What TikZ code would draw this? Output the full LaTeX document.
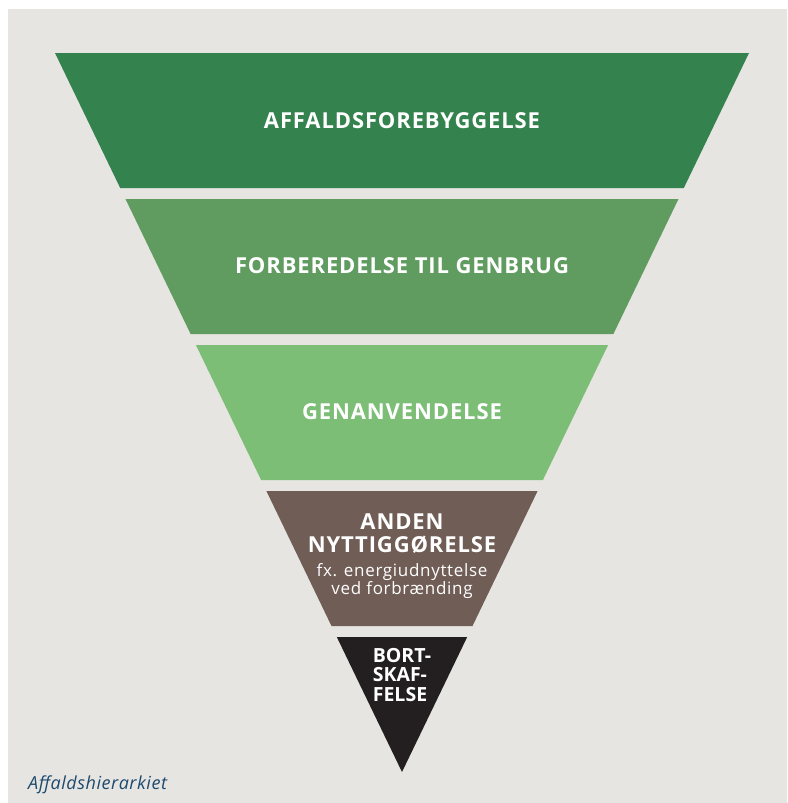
\documentclass[tikz,border=0pt]{standalone}
\usepackage{fontspec}
\setmainfont{Open Sans}
\usepackage{tikz}
\usetikzlibrary{calc}

\definecolor{bggrey}{HTML}{E6E5E1}
\definecolor{greenA}{HTML}{34824E}
\definecolor{greenB}{HTML}{609C60}
\definecolor{greenC}{HTML}{7DBE76}
\definecolor{brownD}{HTML}{705D56}
\definecolor{blackE}{HTML}{231F20}
\definecolor{captionblue}{HTML}{1E4A6E}

\tikzset{
    level/.style={text=white, font=\bfseries\fontsize{22}{23}\selectfont\addfontfeatures{LetterSpace=4}, align=center, inner sep=0pt},
    sublevel/.style={text=white, font=\fontsize{17}{16.5}\selectfont\addfontfeatures{LetterSpace=4}, align=center, inner sep=0pt},
}

\begin{document}
\begin{tikzpicture}[x=1pt, y=-1pt]
    \useasboundingbox (0,0) rectangle (787,803);
    \fill[bggrey] (8,9) rectangle (787,803);
    % the levels of the hierarchy
    \fill[greenA] (55,53) -- (749,53) -- (683.8,188) -- (120.2,188) -- cycle;
    \node[level] (prevent) at (402,120.5) {AFFALDSFOREBYGGELSE};
    \fill[greenB] (125.5,199) -- (678.5,199) -- (613.4,334) -- (190.6,334) -- cycle;
    \node[level] (reuse) at (402,266) {FORBEREDELSE TIL GENBRUG};
    \fill[greenC] (195.9,345) -- (608.1,345) -- (542.9,480) -- (261.1,480) -- cycle;
    \node[level] (recycle) at (402,412) {GENANVENDELSE};
    \fill[brownD] (266.4,491) -- (537.6,491) -- (472.5,626) -- (331.5,626) -- cycle;
    \node[level] (recover) at (402,534) {ANDEN\\NYTTIGGØRELSE};
    \node[sublevel] (recovernote) at (402,581) {fx. energiudnyttelse\\ved forbrænding};
    \fill[blackE] (336.8,637) -- (467.2,637) -- (402,772) -- cycle;
    \node[level, font=\bfseries\fontsize{19.5}{19.5}\selectfont, align=left] (dispose) at (402,675) {BORT-\\SKAF-\\FELSE};
    % caption
    \node[anchor=base west, inner sep=0pt, text=captionblue, font=\itshape\fontsize{18}{20}\selectfont\addfontfeatures{LetterSpace=3}] (caption) at (28,789) {Affaldshierarkiet};
\end{tikzpicture}
\end{document}
